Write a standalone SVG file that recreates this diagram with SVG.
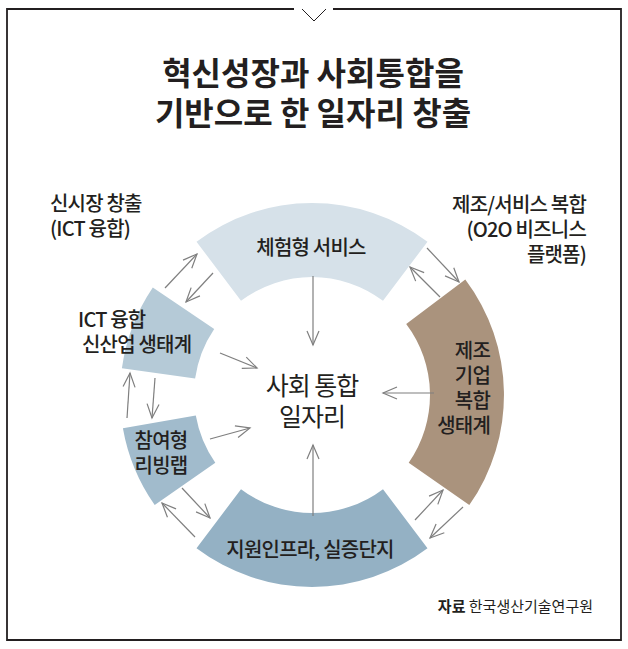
<svg xmlns="http://www.w3.org/2000/svg" width="628" height="649" viewBox="0 0 628 649">
<defs>
<style>
.t{font-family:'Noto Sans CJK KR','Noto Sans',sans-serif;fill:#231f20}
.title{font-size:32px;font-weight:700;text-anchor:middle}
.lab{font-size:20px;font-weight:500;letter-spacing:-0.8px}
.c{text-anchor:middle}
.e{text-anchor:end}
.ar{fill:none;stroke:#7f7f7f;stroke-width:1.2;marker-end:url(#ah)}
</style>
<marker id="ah" viewBox="-16 -8 18 16" refX="0" refY="0" markerWidth="18" markerHeight="16" markerUnits="userSpaceOnUse" orient="auto">
<path d="M-14,-6 L0,0 L-14,6" fill="none" stroke="#7f7f7f" stroke-width="1.2"/>
</marker>
</defs>
<rect width="628" height="649" fill="#ffffff"/>
<g id="frame" fill="none" stroke="#231f20">
<path d="M294,9 L7,9 L7,640 L621,640 L621,9 L333,9" stroke-width="1.8"/>
<path d="M302,9 L314,21 L326,9" stroke-width="1"/>
</g>
<g id="title">
<text class="t title" x="313" y="85">혁신성장과 사회통합을</text>
<text class="t title" x="313" y="125">기반으로 한 일자리 창출</text>
</g>
<g id="seg-top">
<path d="M196.5,241.7 A192,192 0 0 1 427.5,241.7 L383,300.8 A118,118 0 0 0 241,300.8 Z" fill="#d6e1e9"/>
<text class="t lab c" x="311" y="255">체험형 서비스</text>
</g>
<g id="seg-right">
<path d="M465.3,279.5 A192,192 0 0 1 469.3,505.1 L408.7,462.7 A118,118 0 0 0 406.2,324 Z" fill="#aa937d"/>
<text class="t lab e" x="490" y="358">제조</text>
<text class="t lab e" x="490" y="383">기업</text>
<text class="t lab e" x="490" y="408">복합</text>
<text class="t lab e" x="490" y="433">생태계</text>
</g>
<g id="seg-bottom">
<path d="M427.5,548.3 A192,192 0 0 1 196.5,548.3 L241,489.2 A118,118 0 0 0 383,489.2 Z" fill="#94b1c4"/>
<text class="t lab c" x="310" y="557">지원인프라, 실증단지</text>
</g>
<g id="seg-lowerleft">
<path d="M154.7,505.1 A192,192 0 0 1 122.9,428.3 L195.8,415.5 A118,118 0 0 0 215.3,462.7 Z" fill="#a1bbcc"/>
<text class="t lab c" x="161" y="448">참여형</text>
<text class="t lab c" x="161" y="473">리빙랩</text>
</g>
<g id="seg-upperleft">
<path d="M121.9,368.3 A192,192 0 0 1 152.8,287.6 L214.2,329 A118,118 0 0 0 195.1,378.6 Z" fill="#b5cad7"/>
<text class="t lab" x="78" y="327">ICT 융합</text>
<text class="t lab" x="82" y="352">신산업 생태계</text>
</g>
<g id="center">
<text class="t c" x="312" y="395" font-size="25" letter-spacing="-1">사회 통합</text>
<text class="t c" x="312" y="426" font-size="25" letter-spacing="-1">일자리</text>
</g>
<g id="note-left">
<text class="t lab" x="50" y="211">신시장 창출</text>
<text class="t lab" x="50" y="236">(ICT 융합)</text>
</g>
<g id="note-right">
<text class="t lab e" x="586" y="212">제조/서비스 복합</text>
<text class="t lab e" x="586" y="237">(O2O 비즈니스</text>
<text class="t lab e" x="586" y="262">플랫폼)</text>
</g>
<g id="source">
<text class="t e" x="593" y="612" font-size="15"><tspan font-weight="700">자료</tspan> 한국생산기술연구원</text>
</g>
<g id="connectors">
<line class="ar" x1="313" y1="276" x2="313" y2="345"/>
<line class="ar" x1="313" y1="516" x2="313" y2="445"/>
<line class="ar" x1="434" y1="393" x2="383" y2="393"/>
<line class="ar" x1="220" y1="353" x2="257" y2="368"/>
<line class="ar" x1="210" y1="439" x2="250" y2="428"/>
<line class="ar" x1="165" y1="288" x2="197" y2="254"/>
<line class="ar" x1="213" y1="273" x2="186" y2="302"/>
<line class="ar" x1="427" y1="248" x2="459" y2="282"/>
<line class="ar" x1="440" y1="297" x2="410" y2="267"/>
<line class="ar" x1="127" y1="418" x2="130" y2="373"/>
<line class="ar" x1="155" y1="378" x2="152" y2="418"/>
<line class="ar" x1="182" y1="488" x2="210" y2="518"/>
<line class="ar" x1="195" y1="537" x2="162" y2="503"/>
<line class="ar" x1="415" y1="520" x2="443" y2="490"/>
<line class="ar" x1="463" y1="507" x2="430" y2="538"/>
</g>
</svg>
